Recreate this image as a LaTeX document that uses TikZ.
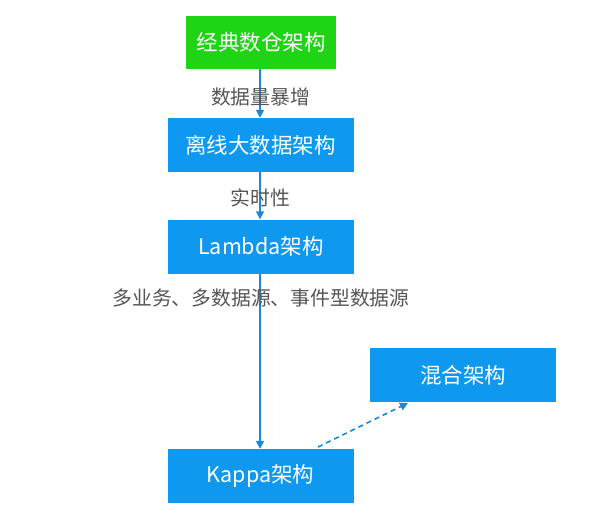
\documentclass[tikz,border=0pt]{standalone}
\usepackage{fontspec}
\setmainfont{Noto Sans CJK SC}
\usetikzlibrary{arrows.meta}
\definecolor{boxblue}{RGB}{14,152,240}
\definecolor{boxgreen}{RGB}{30,212,20}
\definecolor{lineblue}{RGB}{26,136,214}
\definecolor{labelgray}{RGB}{85,85,85}
\tikzset{
  archbox/.style={draw=none, fill=boxblue, text=white, minimum width=186pt, minimum height=54pt, inner sep=0pt, font=\fontsize{21.5}{25}\selectfont},
  greenbox/.style={archbox, fill=boxgreen, minimum width=150pt, minimum height=53pt},
  flow/.style={draw=lineblue, line width=1.6pt, -{Triangle[length=8pt,width=8pt]}},
  dflow/.style={flow, dash pattern=on 5pt off 4pt},
  lbl/.style={text=labelgray, inner sep=0pt, font=\fontsize{19.8}{23}\selectfont}
}
\begin{document}
\begin{tikzpicture}[x=1pt,y=-1pt]
\useasboundingbox (0,0) rectangle (592,522);
\node[greenbox] (a) at (261,42.5) {经典数仓架构};
\node[archbox] (b) at (260.5,145) {离线大数据架构};
\node[archbox] (c) at (261,246.5) {Lambda架构};
\node[archbox] (d) at (260.5,476) {Kappa架构};
\node[archbox] (e) at (463,375) {混合架构};
\draw[flow] (a.south -| 260,0) -- (b.north -| 260,0);
\draw[flow] (b.south -| 260,0) -- (c.north -| 260,0);
\draw[flow] (c.south -| 260,0) -- (d.north -| 260,0);
\coordinate (ds) at (318,447);
\coordinate (de) at (408,403);
\draw[dflow] (ds) -- (de);
\node[lbl] (l1) at (260.5,97) {数据量暴增};
\node[lbl] (l2) at (260.5,198) {实时性};
\node[lbl] (l3) at (261,298) {多业务、多数据源、事件型数据源};
\end{tikzpicture}
\end{document}
